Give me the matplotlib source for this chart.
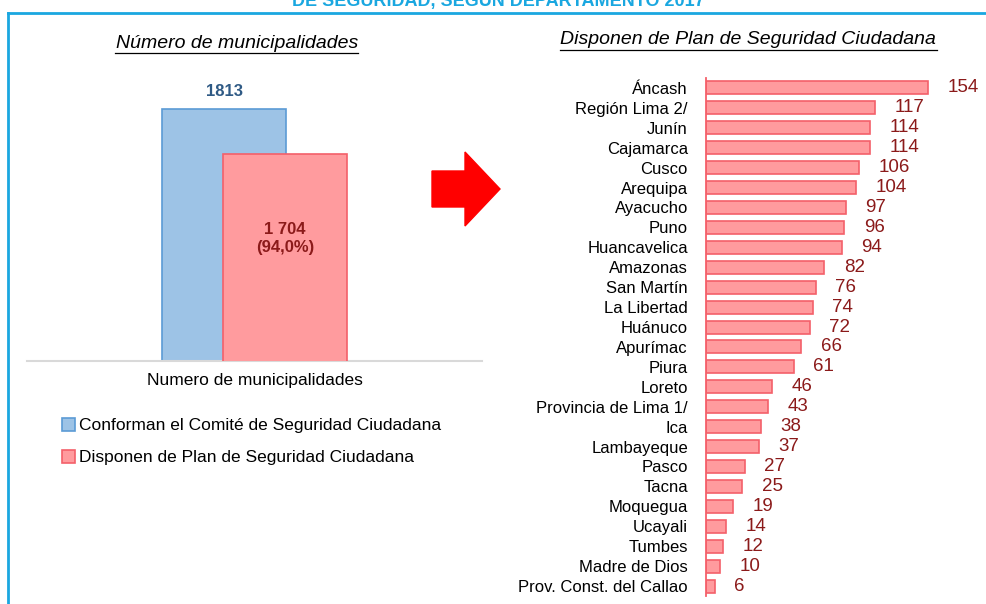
import matplotlib.pyplot as plt
from matplotlib.patches import FancyArrow
from matplotlib.lines import Line2D
import numpy as np

plt.rcParams['font.family'] = ['Liberation Sans', 'DejaVu Sans']

# Left chart data
left_labels = ['Conforman el Comité de Seguridad Ciudadana', 'Disponen de Plan de Seguridad Ciudadana']
left_values = [1813, 1704]
left_text = ['1813', '1 704\n(94,0%)']

# Right chart data (departamentos)
deptos = ['Áncash', 'Región Lima 2/', 'Junín', 'Cajamarca', 'Cusco', 'Arequipa',
          'Ayacucho', 'Puno', 'Huancavelica', 'Amazonas', 'San Martín', 'La Libertad',
          'Huánuco', 'Apurímac', 'Piura', 'Loreto', 'Provincia de Lima 1/', 'Ica',
          'Lambayeque', 'Pasco', 'Tacna', 'Moquegua', 'Ucayali', 'Tumbes',
          'Madre de Dios', 'Prov. Const. del Callao']
planes = [154, 117, 114, 114, 106, 104, 97, 96, 94, 82, 76, 74, 72, 66, 61,
          46, 43, 38, 37, 27, 25, 19, 14, 12, 10, 6]

blue_fill = '#9DC3E6'
blue_edge = '#5B9BD5'
red_fill = '#FF9B9E'
red_edge = '#F4606A'
dark_red = '#8B1A1A'

fig = plt.figure(figsize=(9.86, 6.04), dpi=100)

# frame lines and cut-off title
fig.add_artist(Line2D([8/986, 1], [1-13/604, 1-13/604], color='#1AA7E0', lw=2))
fig.add_artist(Line2D([8/986, 8/986], [0, 1-13/604], color='#1AA7E0', lw=2))
fig.text(0.505, 1.0, 'DE SEGURIDAD, SEGÚN DEPARTAMENTO 2017', ha='center', va='center',
         color='#1AA7E0', fontsize=13, fontweight='bold')

# ---- left chart
ax1 = fig.add_axes([27/986, 1-360.5/604, 455/986, (360.5-73)/604])
xpos = [-0.067, 0.067]
ax1.bar(xpos[0], left_values[0], width=0.272, color=blue_fill, edgecolor=blue_edge, lw=1.2,
        label=left_labels[0], zorder=2)
ax1.bar(xpos[1], left_values[1], width=0.272, color=red_fill, edgecolor=red_edge, lw=1.2,
        label=left_labels[1], zorder=3)
ax1.set_xlim(-0.5, 0.5)
ax1.set_ylim(1205, 1900)
ax1.text(xpos[0], left_values[0] + 25, left_text[0], ha='center', va='bottom',
         fontsize=12, fontweight='bold', color='#2F5A85')
ax1.text(xpos[1], 1500, left_text[1], ha='center', va='center', fontsize=12,
         fontweight='bold', color=dark_red, linespacing=1.3)
for s in ['top', 'right', 'left']:
    ax1.spines[s].set_visible(False)
ax1.spines['bottom'].set_color('#D9D9D9')
ax1.spines['bottom'].set_linewidth(1.5)
ax1.set_yticks([])
ax1.set_xticks([0])
ax1.set_xticklabels(['Numero de municipalidades'], fontsize=12.5)
ax1.tick_params(axis='x', length=0, pad=9)
ax1.legend(loc='upper left', bbox_to_anchor=(0.077, -0.2), frameon=False, fontsize=12.5,
           handlelength=0.75, handleheight=0.75, handletextpad=0.2, labelspacing=0.95,
           borderaxespad=0, borderpad=0)
fig.text(237/986, 1-43/604, 'Número de municipalidades', ha='center', va='center',
         fontsize=14, style='italic')
# underline for the italic titles
fig.add_artist(Line2D([115/986, 358/986], [1-53/604, 1-53/604], color='black', lw=0.9))

# ---- arrow
fig.add_artist(FancyArrow(432/986, 1-189/604, 68/986, 0, width=36/604, head_width=74/604,
                          head_length=35/986, length_includes_head=True,
                          color='#FF0000', transform=fig.transFigure))

# ---- right chart
ax2 = fig.add_axes([706/986, 1-596/604, 274/986, (596-78)/604])
y = np.arange(len(deptos))
ax2.barh(y, planes, height=0.65, color=red_fill, edgecolor=red_edge, lw=1.2)
ax2.set_ylim(len(deptos) - 0.5, -0.5)
ax2.set_xlim(0, 190)
for yi, v in zip(y, planes):
    ax2.text(v + 13.5, yi, str(v), va='center', ha='left', fontsize=13.5, color=dark_red)
for s in ['top', 'right', 'bottom']:
    ax2.spines[s].set_visible(False)
ax2.spines['left'].set_color(red_edge)
ax2.spines['left'].set_linewidth(1.3)
ax2.set_xticks([])
ax2.set_yticks(y)
ax2.set_yticklabels(deptos, fontsize=12)
ax2.tick_params(axis='y', length=0, pad=13)
fig.text(748/986, 1-40/604, 'Disponen de Plan de Seguridad Ciudadana', ha='center', va='center',
         fontsize=14, style='italic')
fig.add_artist(Line2D([560/986, 937/986], [1-50/604, 1-50/604], color='black', lw=0.9))

fig.savefig('out.png', dpi=100)
